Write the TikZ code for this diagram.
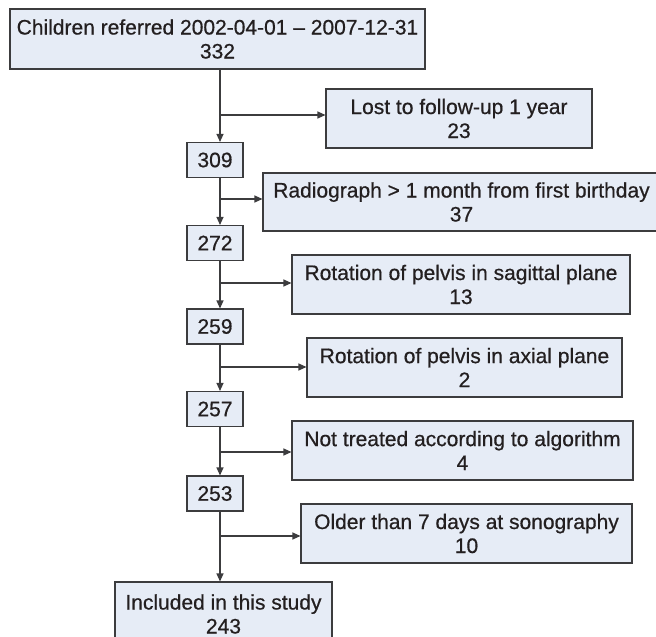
\documentclass[tikz,border=0pt]{standalone}
\usepackage{fontspec}
\setmainfont{Liberation Sans}[FakeBold=0.6]
\usetikzlibrary{arrows.meta}
\definecolor{boxfill}{HTML}{E6ECF6}
\definecolor{boxline}{HTML}{3C3C3E}
\definecolor{txt}{HTML}{231F20}
\begin{document}
\begin{tikzpicture}[x=1pt,y=1pt,
  box/.style={draw=boxline, fill=boxfill, line width=1.1pt, inner sep=0pt,
    align=center, text=txt, font=\fontsize{21}{24}\selectfont},
  conn/.style={draw=boxline, line width=1.2pt},
  arr/.style={conn, -{Triangle[length=8pt,width=7pt]}}]
\clip (0,0) rectangle (656,-637);
\fill[white] (0,0) rectangle (656,-637);
% main boxes
\node[box, minimum width=415pt, minimum height=60pt] (top) at (217.5,-39) {Children referred 2002-04-01 -- 2007-12-31\\332};
\node[box, minimum width=56pt, minimum height=35pt] (s309) at (215,-160) {309};
\node[box, minimum width=56pt, minimum height=35pt] (s272) at (215,-243) {272};
\node[box, minimum width=56pt, minimum height=35pt] (s259) at (215,-326.5) {259};
\node[box, minimum width=56pt, minimum height=35pt] (s257) at (215,-409) {257};
\node[box, minimum width=56pt, minimum height=35pt] (s253) at (215,-493.5) {253};
\node[box, minimum width=217pt, minimum height=64pt] (incl) at (223.5,-614) {Included in this study\\243};
% side boxes
\node[box, minimum width=266pt, minimum height=59pt] (lost) at (459,-118.5) {Lost to follow-up 1 year\\23};
\node[box, minimum width=397pt, minimum height=58pt] (radio) at (461.5,-202) {Radiograph > 1 month from first birthday\\37};
\node[box, minimum width=338pt, minimum height=59pt] (sag) at (461,-284.5) {Rotation of pelvis in sagittal plane\\13};
\node[box, minimum width=315pt, minimum height=59pt] (axial) at (464.5,-367.5) {Rotation of pelvis in axial plane\\2};
\node[box, minimum width=341pt, minimum height=59pt] (nottr) at (462.5,-450.5) {Not treated according to algorithm\\4};
\node[box, minimum width=331pt, minimum height=59pt] (older) at (466.5,-533.5) {Older than 7 days at sonography\\10};
% trunk coordinates
\coordinate (v0) at (220,-69);
\coordinate (b1) at (220,-115);
\coordinate (b2) at (220,-199);
\coordinate (b3) at (220,-283);
\coordinate (b4) at (220,-367);
\coordinate (b5) at (220,-452);
\coordinate (b6) at (220,-536);
% vertical arrows
\draw[arr] (top.south -| v0) -- (s309.north -| v0);
\draw[arr] (s309.south -| v0) -- (s272.north -| v0);
\draw[arr] (s272.south -| v0) -- (s259.north -| v0);
\draw[arr] (s259.south -| v0) -- (s257.north -| v0);
\draw[arr] (s257.south -| v0) -- (s253.north -| v0);
\draw[arr] (s253.south -| v0) -- (incl.north -| v0);
% side arrows
\draw[arr] (b1) -- (b1 -| lost.west);
\draw[arr] (b2) -- (b2 -| radio.west);
\draw[arr] (b3) -- (b3 -| sag.west);
\draw[arr] (b4) -- (b4 -| axial.west);
\draw[arr] (b5) -- (b5 -| nottr.west);
\draw[arr] (b6) -- (b6 -| older.west);
\end{tikzpicture}
\end{document}
